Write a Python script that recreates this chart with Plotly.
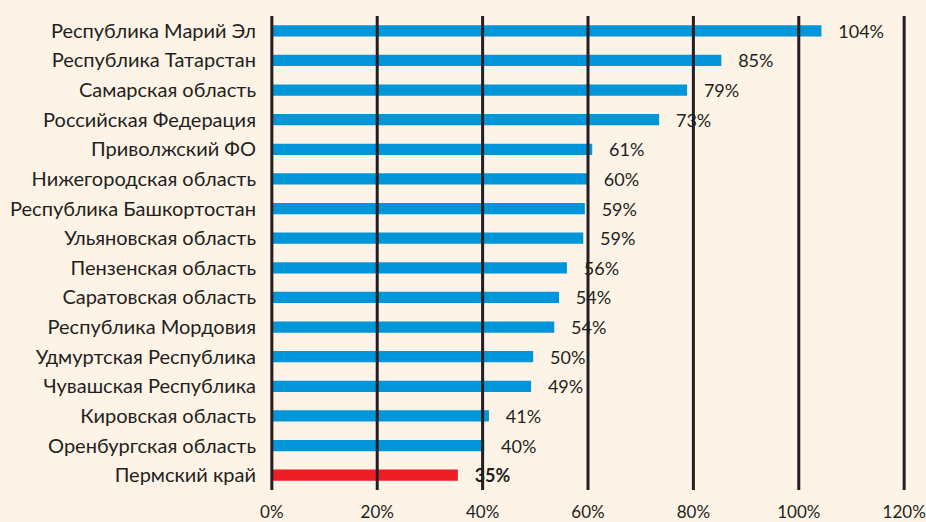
import plotly.graph_objects as go

categories = [
    "Республика Марий Эл", "Республика Татарстан", "Самарская область",
    "Российская Федерация", "Приволжский ФО", "Нижегородская область",
    "Республика Башкортостан", "Ульяновская область", "Пензенская область",
    "Саратовская область", "Республика Мордовия", "Удмуртская Республика",
    "Чувашская Республика", "Кировская область", "Оренбургская область",
    "Пермский край",
]
values = [104.3, 85.3, 78.8, 73.5, 60.8, 59.8, 59.4, 59.1, 56.0, 54.5, 53.6,
          49.6, 49.2, 41.2, 40.3, 35.3]
value_labels = ["104%", "85%", "79%", "73%", "61%", "60%", "59%", "59%", "56%",
                "54%", "54%", "50%", "49%", "41%", "40%", "35%"]
highlight = "Пермский край"
tick_vals = [0, 20, 40, 60, 80, 100, 120]
tick_text = ["0%", "20%", "40%", "60%", "80%", "100%", "120%"]

BLUE = "#0096d9"
RED = "#ee1c25"
BG = "#fdf3e7"
INK = "#231f20"
FONT = "Lato, Open Sans, sans-serif"
PAD = "\u00a0" * 3

colors = [RED if c == highlight else BLUE for c in categories]
texts = [PAD + ("<b>%s</b>" % t if c == highlight else t)
         for c, t in zip(categories, value_labels)]

fig = go.Figure(go.Bar(
    y=categories, x=values, orientation="h",
    marker=dict(color=colors, line=dict(width=0)),
    width=0.38,
    text=texts, textposition="outside", cliponaxis=False,
    constraintext="none",
    textfont=dict(family=FONT, size=18, color=INK),
    hoverinfo="skip",
))

for v in tick_vals:
    fig.add_shape(type="line", xref="x", yref="paper", x0=v, x1=v, y0=0, y1=1,
                  line=dict(color=INK, width=3), layer="above")

fig.update_layout(
    width=926, height=522,
    margin=dict(l=270, r=20, t=16, b=32, autoexpand=False),
    paper_bgcolor=BG, plot_bgcolor=BG,
    showlegend=False,
    font=dict(family=FONT, size=18, color=INK),
    xaxis=dict(range=[-0.35, 120.35], tickvals=tick_vals, ticktext=tick_text,
               showgrid=False, zeroline=False, showline=False, automargin=False,
               ticks="outside", ticklen=7, tickcolor="rgba(0,0,0,0)",
               ticklabeloverflow="allow",
               tickfont=dict(family=FONT, size=17, color=INK)),
    yaxis=dict(autorange="reversed", showgrid=False, zeroline=False,
               showline=False, automargin=False,
               ticks="outside", ticklen=9,
               tickcolor="rgba(0,0,0,0)",
               tickfont=dict(family=FONT, size=20, color=INK)),
)

post = ("document.body.style.margin='0';"
        "document.body.style.overflow='hidden';"
        "document.body.style.background='%s';" % BG)
fig.write_html("out.html", post_script=post,
               config={"displayModeBar": False, "staticPlot": True})
